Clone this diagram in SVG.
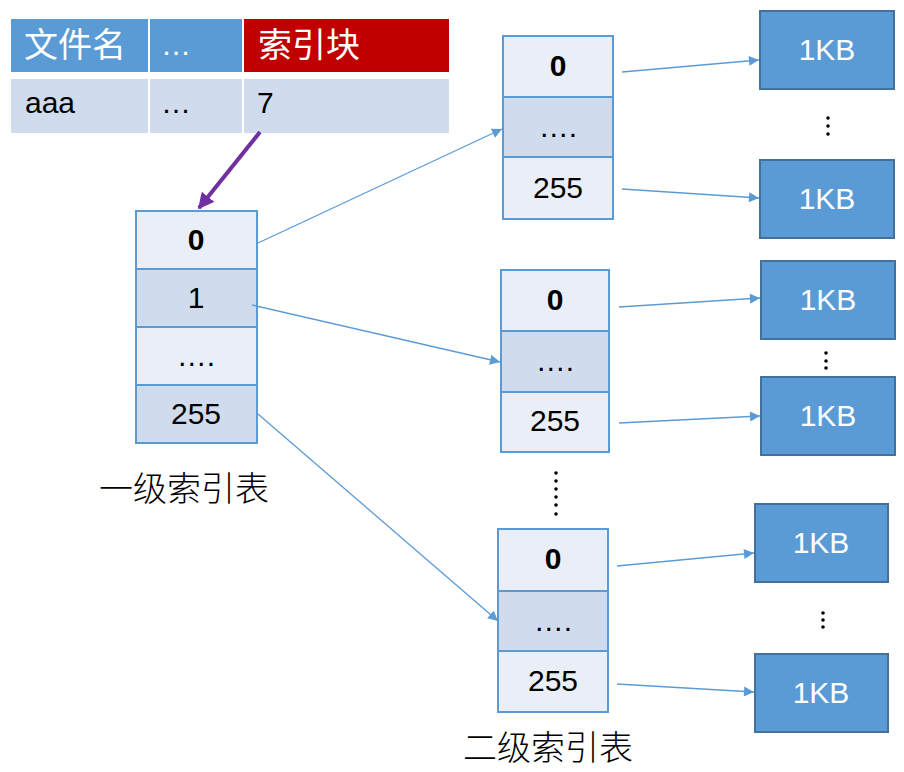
<svg xmlns="http://www.w3.org/2000/svg" width="904" height="772" viewBox="0 0 904 772">
<style>
.hdr{fill:#5B9BD5}
.red{fill:#C00000}
.row{fill:#D0DCEE}
.lt{fill:#E9EEF7;stroke:#5B9BD5;stroke-width:2}
.dk{fill:#D0DCEE;stroke:#5B9BD5;stroke-width:2}
.blk{fill:#5B9BD5;stroke:#41719C;stroke-width:2}
.t{font-family:"Liberation Sans","Noto Sans CJK SC",sans-serif;font-size:30px;fill:#000;text-anchor:middle}
.b{font-weight:bold}
.w{fill:#fff}
.cjk{font-family:"Noto Sans CJK SC",sans-serif;font-size:34px;fill:#fff}
.lbl{font-family:"Noto Sans CJK SC",sans-serif;font-weight:300;font-size:34px;fill:#000;text-anchor:middle}
.con{stroke:#5B9BD5;stroke-width:1.3;fill:none;marker-end:url(#ah)}
.dot{fill:#000}
</style>
<defs>
<marker id="ah" viewBox="0 0 10 10" refX="10" refY="5" markerWidth="11" markerHeight="10" markerUnits="userSpaceOnUse" orient="auto">
<path d="M0,0 L10,5 L0,10 z" fill="#5B9BD5"/>
</marker>
<marker id="ahp" viewBox="0 0 10 10" refX="9" refY="5" markerWidth="4" markerHeight="4" orient="auto">
<path d="M0,0 L10,5 L0,10 z" fill="#7030A0"/>
</marker>
</defs>

<g id="file-table">
<rect class="hdr" x="11" y="19" width="137" height="53"/>
<rect class="hdr" x="150" y="19" width="92" height="53"/>
<rect class="red" x="244" y="19" width="205" height="53"/>
<rect class="row" x="11" y="79" width="137" height="54"/>
<rect class="row" x="150" y="79" width="92" height="54"/>
<rect class="row" x="244" y="79" width="205" height="54"/>
<text class="cjk" x="24" y="57">文件名</text>
<text class="t w" x="176" y="55">…</text>
<text class="cjk" x="258" y="57">索引块</text>
<text class="t" x="25" y="113" style="text-anchor:start">aaa</text>
<text class="t" x="176" y="113">…</text>
<text class="t" x="257" y="113" style="text-anchor:start">7</text>
</g>

<g id="level1">
<rect class="lt" x="136" y="211" width="121" height="58"/>
<rect class="dk" x="136" y="269" width="121" height="58"/>
<rect class="lt" x="136" y="327" width="121" height="58"/>
<rect class="dk" x="136" y="385" width="121" height="58"/>
<text class="t b" x="196" y="250">0</text>
<text class="t" x="196" y="308">1</text>
<text class="t" x="196" y="366">….</text>
<text class="t" x="196" y="424">255</text>
<text class="lbl" x="184" y="501">一级索引表</text>
</g>

<g id="level2-a">
<rect class="lt" x="503" y="36" width="110" height="61"/>
<rect class="dk" x="503" y="97" width="110" height="60"/>
<rect class="lt" x="503" y="157" width="110" height="62"/>
<text class="t b" x="558" y="76">0</text>
<text class="t" x="558" y="137">….</text>
<text class="t" x="558" y="198">255</text>
</g>

<g id="level2-b">
<rect class="lt" x="501" y="270" width="108" height="61"/>
<rect class="dk" x="501" y="331" width="108" height="61"/>
<rect class="lt" x="501" y="392" width="108" height="60"/>
<text class="t b" x="555" y="310">0</text>
<text class="t" x="555" y="371">….</text>
<text class="t" x="555" y="431">255</text>
</g>

<g id="level2-c">
<rect class="lt" x="498" y="529" width="110" height="62"/>
<rect class="dk" x="498" y="591" width="110" height="60"/>
<rect class="lt" x="498" y="651" width="110" height="61"/>
<text class="t b" x="553" y="569">0</text>
<text class="t" x="553" y="631">….</text>
<text class="t" x="553" y="691">255</text>
<text class="lbl" x="548" y="760">二级索引表</text>
</g>

<g id="blocks">
<rect class="blk" x="760" y="11" width="134" height="78"/>
<rect class="blk" x="760" y="160" width="134" height="78"/>
<rect class="blk" x="761" y="261" width="134" height="78"/>
<rect class="blk" x="761" y="377" width="134" height="78"/>
<rect class="blk" x="755" y="504" width="133" height="78"/>
<rect class="blk" x="755" y="654" width="133" height="78"/>
<text class="t w" x="827" y="60">1KB</text>
<text class="t w" x="827" y="209">1KB</text>
<text class="t w" x="828" y="310">1KB</text>
<text class="t w" x="828" y="426">1KB</text>
<text class="t w" x="821" y="553">1KB</text>
<text class="t w" x="821" y="703">1KB</text>
</g>

<g id="ellipses">
<circle class="dot" cx="828" cy="118" r="1.8"/>
<circle class="dot" cx="828" cy="126" r="1.8"/>
<circle class="dot" cx="828" cy="134" r="1.8"/>
<circle class="dot" cx="826" cy="353" r="1.8"/>
<circle class="dot" cx="826" cy="361" r="1.8"/>
<circle class="dot" cx="826" cy="368" r="1.8"/>
<circle class="dot" cx="823" cy="613" r="1.8"/>
<circle class="dot" cx="823" cy="620" r="1.8"/>
<circle class="dot" cx="823" cy="627" r="1.8"/>
<circle class="dot" cx="556" cy="473" r="1.8"/>
<circle class="dot" cx="556" cy="481" r="1.8"/>
<circle class="dot" cx="556" cy="489" r="1.8"/>
<circle class="dot" cx="556" cy="497" r="1.8"/>
<circle class="dot" cx="556" cy="505" r="1.8"/>
<circle class="dot" cx="556" cy="514" r="1.8"/>
</g>

<g id="connectors">
<line x1="260" y1="132" x2="199" y2="208" stroke="#7030A0" stroke-width="4" marker-end="url(#ahp)"/>
<line class="con" x1="258" y1="243" x2="502" y2="129"/>
<line class="con" x1="252" y1="305" x2="500" y2="362"/>
<line class="con" x1="258" y1="414" x2="498" y2="621"/>
<line class="con" x1="622" y1="72" x2="759" y2="60"/>
<line class="con" x1="622" y1="189" x2="759" y2="198"/>
<line class="con" x1="619" y1="307" x2="760" y2="298"/>
<line class="con" x1="619" y1="423" x2="760" y2="416"/>
<line class="con" x1="617" y1="566" x2="754" y2="553"/>
<line class="con" x1="617" y1="684" x2="754" y2="692"/>
</g>
</svg>
